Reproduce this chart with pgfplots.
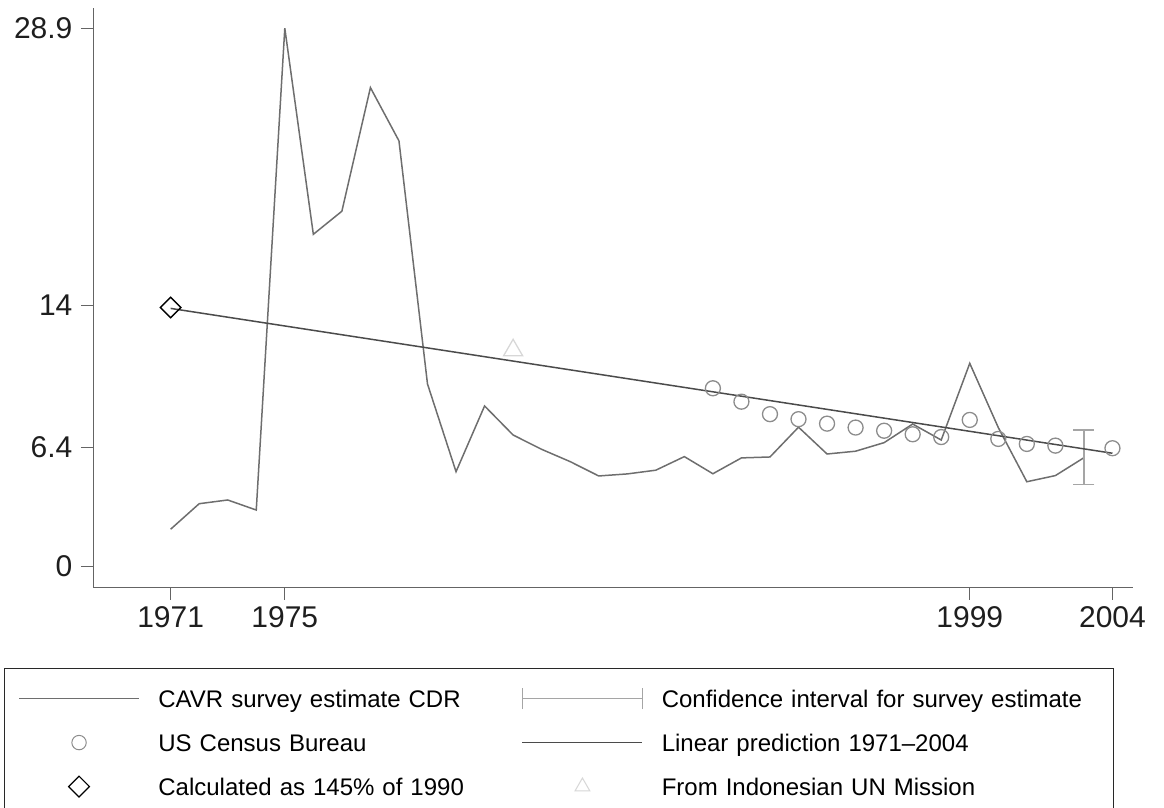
\documentclass[border=0pt]{standalone}
\usepackage{fontspec}
\setmainfont{Liberation Sans}
\usepackage{pgfplots}
\pgfplotsset{compat=1.18}
\definecolor{cavr}{RGB}{110,110,110}
\definecolor{linp}{RGB}{75,75,75}
\definecolor{cens}{RGB}{140,140,140}
\definecolor{ci}{RGB}{165,165,165}
\definecolor{tri}{RGB}{215,215,215}
\definecolor{axc}{RGB}{100,100,100}
\begin{document}
\begin{tikzpicture}
\begin{axis}[
  scale only axis, width=519.85pt, height=289.5pt,
  xmin=1968.29, xmax=2004.72, ymin=-1.13, ymax=29.97,
  axis x line*=bottom, axis y line*=left,
  axis line style={axc, line width=0.75pt},
  xtick={1971,1975,1999,2004}, xticklabels={1971,1975,1999,2004},
  ytick={0,6.4,14,28.9}, yticklabels={0,6.4,14,28.9},
  tick align=outside, major tick length=6.25pt,
  tick style={axc, line width=0.6pt},
  ticklabel style={font=\fontsize{15}{18}\selectfont, inner sep=0pt, text={rgb,255:red,30;green,30;blue,30}},
  xticklabel style={anchor=north, yshift=-3.2pt},
  yticklabel style={anchor=east, xshift=-4.0pt},
  legend columns=2,
  legend cell align=left,
  legend style={at={(axis description cs:-0.08618,-0.13938)}, anchor=north west,
    draw={rgb,255:red,40;green,40;blue,40}, line width=0.6pt, inner xsep=7pt, inner ysep=9.25pt,
    font=\fontsize{12}{14}\selectfont,
    nodes={inner xsep=0pt, inner ysep=0pt, text height=10pt, text depth=1.5pt},
    row sep=10.5pt,
    /tikz/every odd column/.append style={column sep=9.3pt},
    /tikz/every even column/.append style={column sep=16.65pt}},
]
% CAVR survey estimate CDR
\addplot[cavr, line width=0.75pt, forget plot] coordinates {
(1971,1.99) (1972,3.36) (1973,3.56) (1974,3.02) (1975,28.9) (1976,17.83)
(1977,19.07) (1978,25.71) (1979,22.85) (1980,9.79) (1981,5.08) (1982,8.61)
(1983,7.05) (1984,6.28) (1985,5.62) (1986,4.85) (1987,4.96) (1988,5.16)
(1989,5.89) (1990,4.97) (1991,5.82) (1992,5.87) (1993,7.47) (1994,6.03)
(1995,6.18) (1996,6.64) (1997,7.64) (1998,6.78) (1999,10.9) (2000,7.45)
(2001,4.54) (2002,4.87) (2003,5.83)};
% Confidence interval
\addplot[draw=none, mark=none, forget plot,
  error bars/.cd, y dir=both, y explicit,
  error bar style={draw=ci, line width=0.6pt},
  error mark options={draw=ci, line width=0.6pt, mark size=5.25pt, rotate=90}]
  coordinates {(2003,5.86) +- (0,1.46)};
% US Census Bureau
\addplot[only marks, mark=o, mark size=3.75pt, mark options={draw=cens, line width=0.65pt}, forget plot] coordinates {
(1990,9.56) (1991,8.84) (1992,8.17) (1993,7.90) (1994,7.66) (1995,7.45)
(1996,7.28) (1997,7.09) (1998,6.94) (1999,7.86) (2000,6.84) (2001,6.57)
(2002,6.48) (2004,6.34)};
% Linear prediction
\addplot[linp, line width=0.75pt, forget plot] coordinates {(1971,13.85) (2004,6.07)};
% Calculated as 145% of 1990
\addplot[only marks, mark=square, mark size=3.6pt, mark options={rotate=45, draw=black, line width=0.7pt, fill=none}, forget plot] coordinates {(1971,13.9)};
% From Indonesian UN Mission
\addplot[only marks, mark=triangle, mark size=5.5pt, mark options={draw=tri, line width=0.65pt}, forget plot] coordinates {(1983,11.6)};

\addlegendimage{legend image code/.code={\draw[cavr, line width=0.75pt] (0pt,0pt) -- (60pt,0pt);}}
\addlegendentry[text width=165pt]{CAVR survey estimate CDR}
\addlegendimage{legend image code/.code={\draw[ci, line width=0.6pt] (0pt,0pt) -- (60pt,0pt) (0pt,-5.25pt) -- (0pt,5.25pt) (60pt,-5.25pt) -- (60pt,5.25pt);}}
\addlegendentry[text width=219pt]{Confidence interval for survey estimate}
\addlegendimage{legend image code/.code={\path[draw=none] (0pt,0pt) (60pt,0pt); \draw[cens, line width=0.5pt] (30pt,0pt) circle[radius=3.6pt];}}
\addlegendentry[text width=165pt]{US Census Bureau}
\addlegendimage{legend image code/.code={\draw[linp, line width=0.75pt] (0pt,0pt) -- (60pt,0pt);}}
\addlegendentry[text width=219pt]{Linear prediction 1971--2004}
\addlegendimage{legend image code/.code={\path[draw=none] (0pt,0pt) (60pt,0pt); \draw[black, line width=0.6pt] (30pt,5.2pt) -- (35.2pt,0pt) -- (30pt,-5.2pt) -- (24.8pt,0pt) -- cycle;}}
\addlegendentry[text width=165pt]{Calculated as 145\% of 1990}
\addlegendimage{legend image code/.code={\path[draw=none] (0pt,0pt) (60pt,0pt); \draw[tri, line width=0.5pt] (30pt,4.3pt) -- (33.7pt,-2.15pt) -- (26.3pt,-2.15pt) -- cycle;}}
\addlegendentry[text width=219pt]{From Indonesian UN Mission}
\end{axis}
\pgfresetboundingbox
\path[use as bounding box] (-46.65pt,-110.35pt) rectangle (535.35pt,293.65pt);
\end{tikzpicture}
\end{document}
